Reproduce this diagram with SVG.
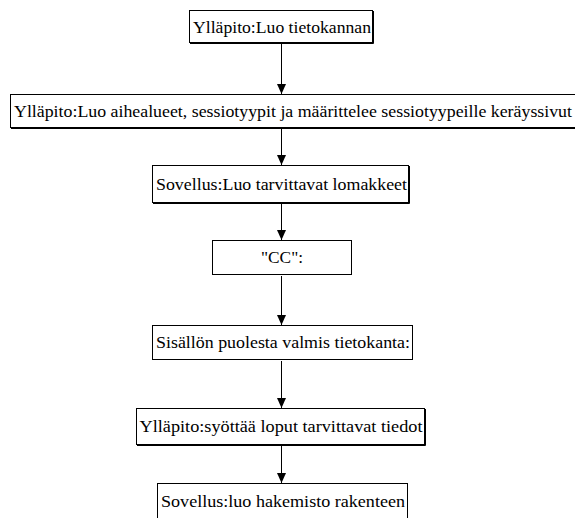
<svg xmlns="http://www.w3.org/2000/svg" width="575" height="518" viewBox="0 0 575 518">
<style>
.box{fill:#fff;stroke:#000;stroke-width:1}
.sh{fill:none;stroke:#000;stroke-width:1}
.t{font-family:"Times New Roman","Liberation Serif","DejaVu Serif","Noto Serif",Times,serif;font-size:17px;fill:#000;text-anchor:middle}
.c{stroke:#000;stroke-width:1;fill:none}
</style>
<defs>
<marker id="ah" markerWidth="12" markerHeight="10" refX="11" refY="5" orient="auto" markerUnits="userSpaceOnUse">
<path d="M1,0.5 L11,5 L1,9.5 Z" fill="#000"/>
</marker>
</defs>
<rect width="575" height="518" fill="#fff"/>
<g id="connectors">
<line class="c" x1="281.5" y1="43" x2="281.5" y2="94" marker-end="url(#ah)"/>
<line class="c" x1="281.5" y1="129" x2="281.5" y2="165" marker-end="url(#ah)"/>
<line class="c" x1="281.5" y1="204" x2="281.5" y2="240" marker-end="url(#ah)"/>
<line class="c" x1="281.5" y1="276" x2="281.5" y2="325" marker-end="url(#ah)"/>
<line class="c" x1="281.5" y1="361" x2="281.5" y2="408" marker-end="url(#ah)"/>
<line class="c" x1="281.5" y1="446" x2="281.5" y2="483" marker-end="url(#ah)"/>
</g>
<g id="n1">
<rect class="box" x="189.5" y="10.5" width="183" height="32"/>
<polyline class="sh" points="373.5,11 373.5,43.5 190,43.5"/>
<text class="t" x="282" y="33" textLength="178" lengthAdjust="spacingAndGlyphs">Ylläpito:Luo tietokannan</text>
</g>
<g id="n2">
<rect class="box" x="10.5" y="94.5" width="570" height="33"/>
<polyline class="sh" points="11,128.5 575,128.5"/>
<text class="t" x="293" y="117" textLength="558" lengthAdjust="spacingAndGlyphs">Ylläpito:Luo aihealueet, sessiotyypit ja määrittelee sessiotyypeille keräyssivut</text>
</g>
<g id="n3">
<rect class="box" x="152.5" y="165.5" width="256" height="37"/>
<polyline class="sh" points="409.5,166 409.5,203.5 153,203.5"/>
<text class="t" x="281.5" y="190" textLength="251" lengthAdjust="spacingAndGlyphs">Sovellus:Luo tarvittavat lomakkeet</text>
</g>
<g id="n4">
<rect class="box" x="212.5" y="240.5" width="139" height="34"/>
<text class="t" x="282" y="263" textLength="42" lengthAdjust="spacingAndGlyphs">"CC":</text>
</g>
<g id="n5">
<rect class="box" x="152.5" y="325.5" width="260" height="34"/>
<text class="t" x="283" y="348" textLength="254" lengthAdjust="spacingAndGlyphs">Sisällön puolesta valmis tietokanta:</text>
</g>
<g id="n6">
<rect class="box" x="136.5" y="408.5" width="288" height="36"/>
<polyline class="sh" points="425.5,409 425.5,445.5 137,445.5"/>
<text class="t" x="281" y="432" textLength="283" lengthAdjust="spacingAndGlyphs">Ylläpito:syöttää loput tarvittavat tiedot</text>
</g>
<g id="n7">
<rect class="box" x="157.5" y="483.5" width="250" height="40"/>
<text class="t" x="283" y="507" textLength="244" lengthAdjust="spacingAndGlyphs">Sovellus:luo hakemisto rakenteen</text>
</g>
</svg>
